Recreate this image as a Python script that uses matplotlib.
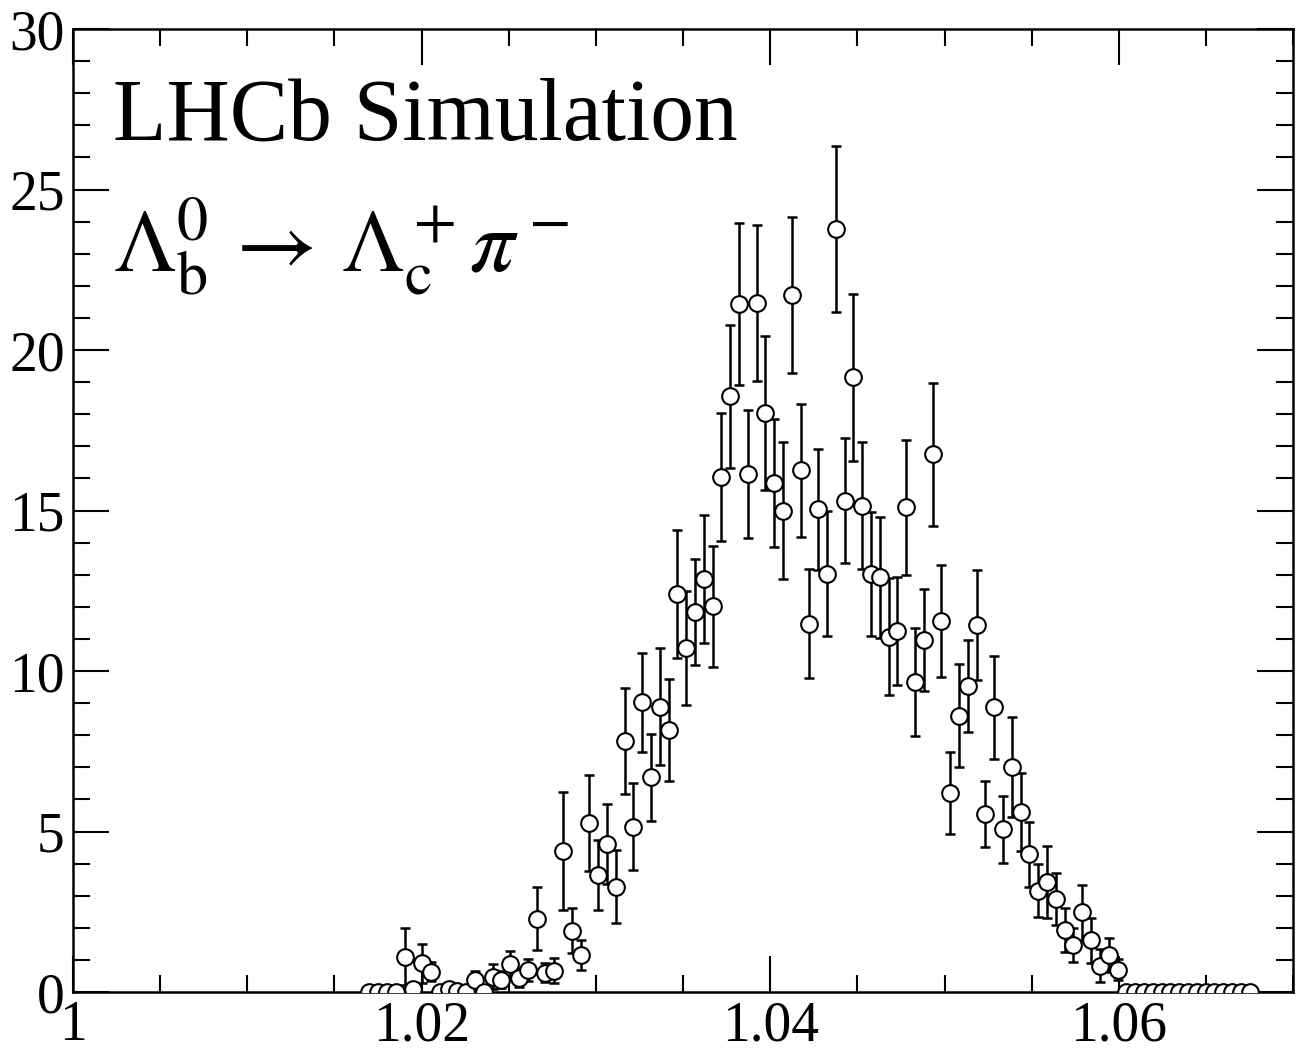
import numpy as np
import matplotlib
matplotlib.use("Agg")
import matplotlib.pyplot as plt
from matplotlib.ticker import MultipleLocator

# histogram binning (centres of first and last bin, number of bins)
x_first = 1.017
x_last = 1.0675
n_bins = 101

values = [0, 0, 0, 0, 1.10, 0.08, 0.89, 0.63, 0, 0.10,
          0.03, 0, 0.37, 0, 0.48, 0.39, 0.86, 0.45, 0.69, 2.29,
          0.60, 0.66, 4.40, 1.91, 1.15, 5.26, 3.64, 4.61, 3.28, 7.82,
          5.15, 9.02, 6.69, 8.89, 8.16, 12.40, 10.71, 11.83, 12.86, 12.02,
          16.04, 18.56, 21.44, 16.14, 21.46, 18.03, 15.86, 15.00, 21.71, 16.25,
          11.48, 15.04, 13.03, 23.77, 15.31, 19.15, 15.15, 13.02, 12.92, 11.07,
          11.26, 15.10, 9.65, 10.97, 16.75, 11.56, 6.19, 8.61, 9.54, 11.43,
          5.55, 8.87, 5.07, 7.00, 5.60, 4.29, 3.16, 3.44, 2.89, 1.93,
          1.46, 2.48, 1.62, 0.82, 1.14, 0.69, 0, 0, 0, 0,
          0, 0, 0, 0, 0, 0, 0, 0, 0, 0, 0]

errors = [0, 0, 0, 0, 0.88, 0.08, 0.60, 0.30, 0, 0.10,
          0.03, 0, 0.28, 0, 0.38, 0.27, 0.43, 0.30, 0.34, 0.97,
          0.29, 0.39, 1.84, 0.70, 0.47, 1.50, 1.09, 1.25, 1.14, 1.64,
          1.35, 1.55, 1.35, 1.82, 1.58, 2.00, 1.77, 1.65, 2.00, 1.89,
          2.00, 2.23, 2.52, 2.00, 2.42, 2.40, 2.00, 2.12, 2.42, 2.07,
          1.71, 1.89, 1.94, 2.58, 1.95, 2.60, 1.97, 1.94, 1.89, 1.82,
          1.68, 2.10, 1.68, 1.58, 2.23, 1.74, 1.28, 1.60, 1.43, 1.72,
          1.03, 1.61, 1.05, 1.56, 1.21, 1.02, 0.82, 1.12, 0.81, 0.68,
          0.52, 0.85, 0.70, 0.51, 0.53, 0.33, 0, 0, 0, 0,
          0, 0, 0, 0, 0, 0, 0, 0, 0, 0, 0]

plt.rcParams["font.family"] = ["Liberation Serif", "DejaVu Serif"]
plt.rcParams["mathtext.fontset"] = "stix"

x = np.linspace(x_first, x_last, n_bins)
y = np.array(values)
yerr = np.array(errors)

fig = plt.figure(figsize=(12.97, 10.52), dpi=100)
ax = fig.add_axes([0.0563, 0.057, 0.9407, 0.9154])

has_err = yerr > 0
ax.errorbar(x[has_err], y[has_err], yerr=yerr[has_err], fmt="none",
            ecolor="black", elinewidth=1.8, capsize=3.5, capthick=1.8, zorder=2)
ax.plot(x, y, "o", ms=12, mfc="white", mec="black", mew=1.5, zorder=3)

ax.set_xlim(1.0, 1.07)
ax.set_ylim(0, 30)
ax.xaxis.set_major_locator(MultipleLocator(0.02))
ax.xaxis.set_minor_locator(MultipleLocator(0.005))
ax.yaxis.set_major_locator(MultipleLocator(5))
ax.yaxis.set_minor_locator(MultipleLocator(1))
ax.set_xticks([1.0, 1.02, 1.04, 1.06])
ax.set_xticklabels(["1", "1.02", "1.04", "1.06"])

ax.tick_params(which="both", direction="in", top=True, right=True,
               width=1.5, labelsize=40)
ax.tick_params(which="major", length=26, pad=6)
ax.tick_params(which="minor", length=12.5)
for s in ax.spines.values():
    s.set_linewidth(1.8)

ax.text(0.033, 0.885, "LHCb Simulation", transform=ax.transAxes,
        fontsize=63, ha="left", va="baseline")
ax.text(0.033, 0.748,
        r"$\Lambda_\mathrm{b}^0\,\rightarrow\,\Lambda_\mathrm{c}^+\pi^-$",
        transform=ax.transAxes, fontsize=64, ha="left", va="baseline")

fig.savefig("out.png", dpi=100)
